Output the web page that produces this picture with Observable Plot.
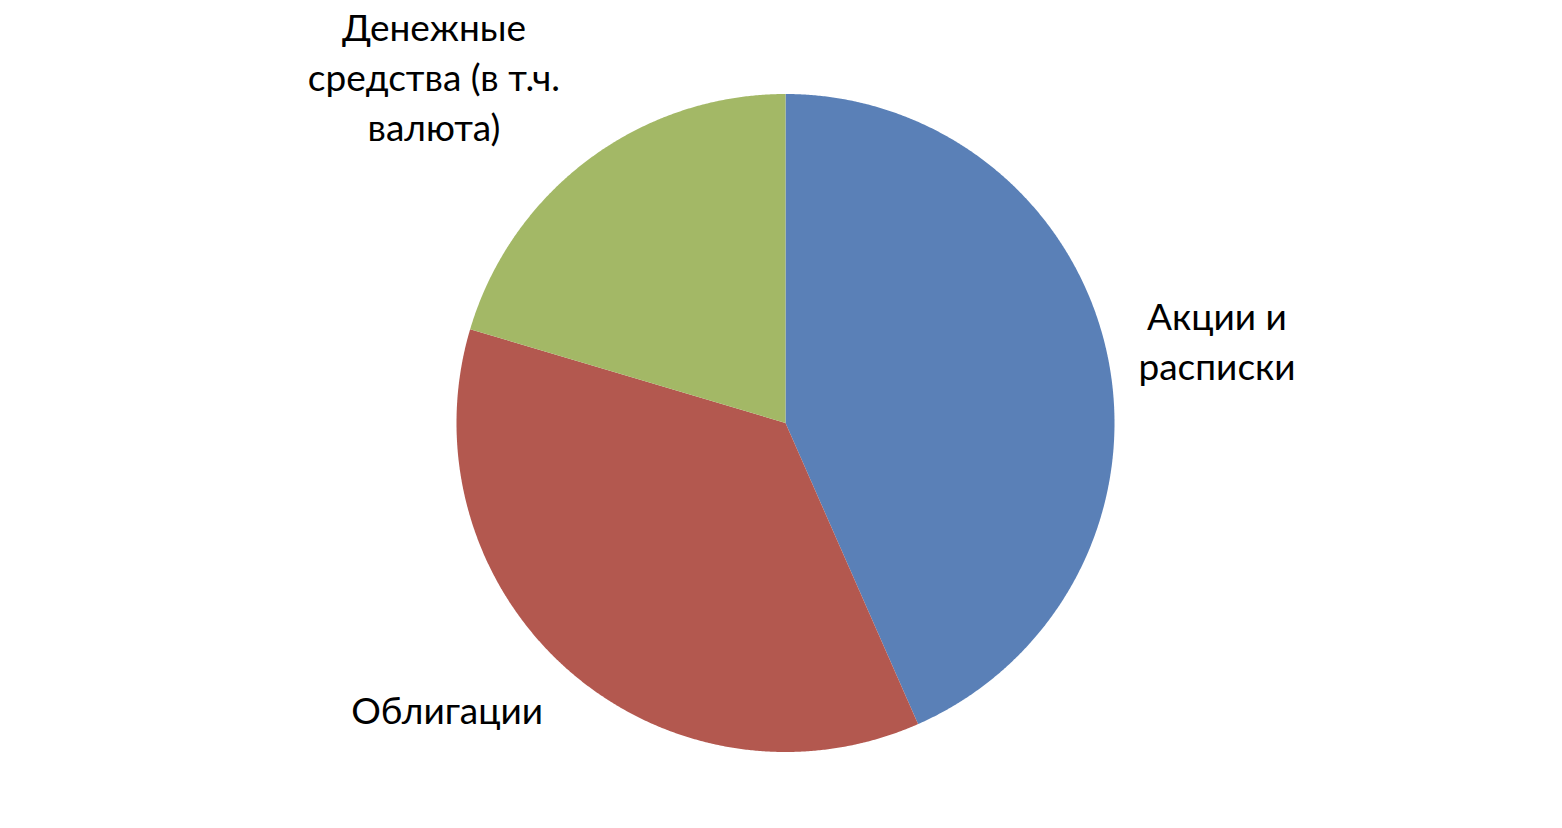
<!DOCTYPE html>
<html>
<head>
<meta charset="utf-8">
<script src="https://cdn.jsdelivr.net/npm/d3@7"></script>
<script src="https://cdn.jsdelivr.net/npm/@observablehq/plot@0.6"></script>
<style>
  html, body { margin: 0; padding: 0; background: #fff; }
  #chart svg { display: block; }
</style>
</head>
<body>
<div id="chart"></div>
<script>
// Data
const categories = ["Акции и расписки", "Облигации", "Денежные средства (в т.ч. валюта)"];
const values = [43.4, 36.2, 20.4];
const labelLines = [
  ["Акции и", "расписки"],
  ["Облигации"],
  ["Денежные", "средства (в т.ч.", "валюта)"]
];
const colors = ["#5A80B7", "#B3584F", "#A3B866"];

// Layout (label anchors in unit-circle coordinates, relative to the pie)
const labelAnchors = [[1.31, 0.258], [-1.03, -0.865], [-1.07, 1.058]];

const W = 1562, H = 828;
const R = 329, CX = 785.5, CY = 423;

// Build slice geometry with d3.pie (clockwise from 12 o'clock)
const pie = d3.pie().sort(null).value(d => d.value);
const arcs = pie(categories.map((c, i) => ({name: c, value: values[i]})));
const slicePts = [];
for (const a of arcs) {
  const n = Math.max(2, Math.ceil((a.endAngle - a.startAngle) / 0.005));
  for (let k = 0; k <= n; k++) {
    const t = a.startAngle + (a.endAngle - a.startAngle) * k / n;
    slicePts.push({name: a.data.name, x: Math.sin(t), y: Math.cos(t), cx: 0, cy: 0});
  }
}

const labelRows = [];
labelLines.forEach((lines, i) => {
  labelRows.push({name: categories[i], text: lines.join("\n"), x: labelAnchors[i][0], y: labelAnchors[i][1]});
});

const chart = Plot.plot({
  width: W,
  height: H,
  marginLeft: CX - R,
  marginRight: W - CX - R,
  marginTop: CY - R,
  marginBottom: H - CY - R,
  x: {domain: [-1, 1], axis: null},
  y: {domain: [-1, 1], axis: null},
  color: {domain: categories, range: colors},
  style: {fontFamily: "Lato, 'Open Sans', sans-serif", background: "#fff", overflow: "visible"},
  marks: [
    Plot.area(slicePts, {
      x1: "x", y1: "y", x2: "cx", y2: "cy",
      z: "name", fill: "name", curve: "linear"
    }),
    Plot.text(labelRows, {
      x: "x", y: "y", text: "text",
      fontSize: 37, lineHeight: 1.35, fill: "#000",
      textAnchor: "middle"
    })
  ]
});
document.getElementById("chart").appendChild(chart);
</script>
</body>
</html>
